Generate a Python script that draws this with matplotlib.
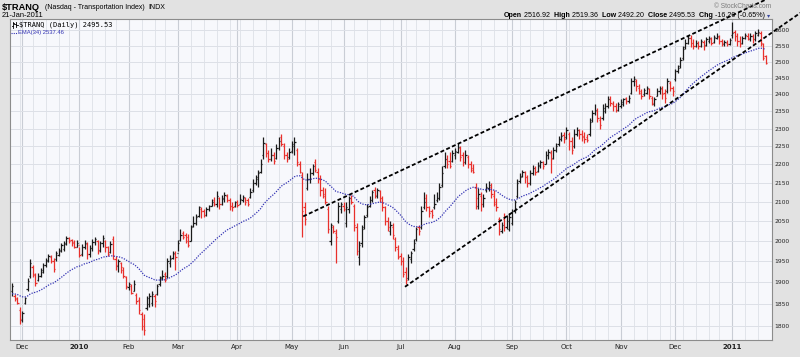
import numpy as np
import pandas as pd
import matplotlib
matplotlib.use("Agg")
import matplotlib.pyplot as plt
from matplotlib.ticker import FixedLocator, FixedFormatter, NullLocator
from matplotlib.lines import Line2D

# trading calendar of the chart
first_day = "2009-11-24"
last_day = "2011-01-21"
holidays = ["2009-11-26", "2009-12-25", "2010-01-01", "2010-01-18", "2010-02-15",
            "2010-04-02", "2010-05-31", "2010-07-05", "2010-09-06", "2010-11-25",
            "2010-12-24", "2011-01-17"]

# daily OHLC
opens = [
    1880, 1868, 1862, 1835, 1812, 1852, 1885, 1915, 1935, 1918,
    1905, 1915, 1925, 1940, 1950, 1960, 1950, 1955, 1965, 1975,
    1980, 1992, 2008, 2002, 1998, 1986, 1990, 1968, 1985, 1993,
    1968, 1982, 1998, 2000, 1978, 1995, 2000, 1985, 1972, 2005,
    1955, 1938, 1945, 1930, 1912, 1888, 1892, 1878, 1870, 1858,
    1825, 1815, 1840, 1850, 1852, 1868, 1872, 1895, 1912, 1920,
    1915, 1945, 1958, 1968, 1970, 2002, 2020, 2015, 2010, 2000,
    2038, 2045, 2062, 2082, 2075, 2065, 2080, 2090, 2105, 2095,
    2110, 2095, 2108, 2115, 2105, 2090, 2088, 2100, 2095, 2105,
    2110, 2105, 2112, 2130, 2150, 2160, 2178, 2225, 2255, 2230,
    2215, 2225, 2218, 2245, 2275, 2250, 2225, 2220, 2238, 2250,
    2240, 2200, 2170, 2085, 2135, 2160, 2175, 2205, 2180, 2160,
    2130, 2120, 2080, 2000, 2035, 2020, 2050, 2080, 2090, 2045,
    2080, 2110, 2090, 2035, 1960, 1995, 2035, 2065, 2090, 2105,
    2130, 2115, 2128, 2110, 2085, 2050, 2025, 2035, 2005, 1980,
    1962, 1950, 1925, 1910, 1955, 1980, 2005, 2035, 2035, 2085,
    2110, 2085, 2075, 2085, 2105, 2110, 2145, 2195, 2215, 2210,
    2210, 2225, 2235, 2245, 2225, 2205, 2220, 2200, 2190, 2140,
    2090, 2115, 2095, 2130, 2135, 2140, 2115, 2095, 2055, 2025,
    2055, 2035, 2030, 2045, 2075, 2115, 2155, 2168, 2178, 2165,
    2150, 2175, 2190, 2182, 2195, 2205, 2200, 2225, 2232, 2218,
    2240, 2255, 2270, 2282, 2275, 2285, 2265, 2250, 2285, 2295,
    2285, 2280, 2275, 2285, 2325, 2345, 2350, 2325, 2330, 2350,
    2365, 2385, 2372, 2365, 2355, 2365, 2370, 2388, 2380, 2405,
    2440, 2440, 2420, 2410, 2400, 2405, 2415, 2390, 2370, 2395,
    2410, 2415, 2405, 2410, 2435, 2420, 2445, 2470, 2485, 2510,
    2545, 2560, 2575, 2560, 2548, 2558, 2550, 2562, 2552, 2565,
    2572, 2562, 2575, 2578, 2565, 2555, 2560, 2555, 2585, 2595,
    2580, 2565, 2558, 2575, 2582, 2570, 2580, 2570, 2585, 2592,
    2555, 2516.92,
]
highs = [
    1899, 1871, 1866, 1842, 1832, 1866, 1910, 1955, 1940, 1922,
    1922, 1934, 1945, 1957, 1968, 1966, 1958, 1976, 1982, 1995,
    2001, 2013, 2010, 2006, 2002, 2003, 1985, 1992, 2003, 1998,
    1990, 2005, 2010, 2002, 2001, 2015, 2003, 1988, 2001, 2012,
    1962, 1955, 1948, 1936, 1915, 1900, 1895, 1906, 1875, 1865,
    1830, 1825, 1868, 1875, 1878, 1872, 1895, 1915, 1930, 1925,
    1958, 1965, 1975, 1975, 2003, 2030, 2025, 2020, 2018, 2040,
    2062, 2068, 2090, 2085, 2080, 2085, 2092, 2108, 2112, 2128,
    2112, 2118, 2125, 2120, 2110, 2098, 2103, 2105, 2120, 2118,
    2112, 2110, 2135, 2160, 2172, 2185, 2215, 2275, 2260, 2240,
    2245, 2235, 2255, 2275, 2285, 2260, 2235, 2245, 2265, 2275,
    2245, 2210, 2180, 2100, 2175, 2190, 2200, 2215, 2190, 2170,
    2140, 2135, 2090, 2045, 2040, 2030, 2100, 2100, 2098, 2100,
    2115, 2118, 2095, 2045, 2000, 2040, 2065, 2095, 2115, 2130,
    2140, 2135, 2132, 2115, 2090, 2060, 2050, 2045, 2010, 1990,
    1970, 1960, 1935, 1968, 1975, 2005, 2035, 2040, 2090, 2125,
    2120, 2090, 2080, 2120, 2125, 2150, 2195, 2235, 2225, 2235,
    2240, 2245, 2258, 2250, 2235, 2240, 2225, 2210, 2200, 2150,
    2135, 2125, 2120, 2150, 2155, 2150, 2130, 2110, 2060, 2048,
    2070, 2065, 2070, 2080, 2105, 2160, 2175, 2185, 2182, 2170,
    2185, 2198, 2195, 2205, 2212, 2210, 2238, 2242, 2240, 2248,
    2258, 2280, 2290, 2290, 2305, 2290, 2275, 2300, 2305, 2300,
    2295, 2290, 2285, 2330, 2355, 2370, 2360, 2335, 2370, 2375,
    2395, 2395, 2380, 2375, 2378, 2385, 2390, 2392, 2398, 2448,
    2455, 2445, 2430, 2415, 2420, 2425, 2420, 2395, 2392, 2420,
    2425, 2425, 2415, 2448, 2440, 2425, 2478, 2488, 2515, 2550,
    2570, 2585, 2585, 2570, 2568, 2565, 2572, 2568, 2578, 2582,
    2578, 2585, 2590, 2585, 2572, 2568, 2568, 2575, 2625, 2600,
    2592, 2580, 2582, 2592, 2590, 2590, 2588, 2598, 2605, 2598,
    2560, 2519.36,
]
lows = [
    1867, 1855, 1849, 1804, 1808, 1849, 1878, 1910, 1912, 1890,
    1902, 1913, 1922, 1936, 1948, 1945, 1925, 1950, 1962, 1972,
    1976, 1990, 1995, 1988, 1982, 1984, 1960, 1962, 1980, 1955,
    1960, 1975, 1990, 1968, 1972, 1985, 1972, 1962, 1970, 1955,
    1930, 1925, 1922, 1910, 1883, 1882, 1871, 1880, 1849, 1826,
    1790, 1780, 1835, 1842, 1845, 1843, 1870, 1892, 1905, 1900,
    1910, 1935, 1955, 1930, 1975, 2000, 2005, 1995, 1985, 2000,
    2035, 2040, 2060, 2058, 2060, 2062, 2075, 2088, 2088, 2085,
    2082, 2092, 2100, 2100, 2078, 2075, 2085, 2085, 2095, 2100,
    2092, 2090, 2110, 2125, 2145, 2140, 2175, 2215, 2220, 2205,
    2210, 2200, 2215, 2240, 2250, 2215, 2205, 2215, 2230, 2225,
    2195, 2175, 2010, 2040, 2130, 2150, 2170, 2178, 2150, 2115,
    2110, 2095, 2020, 1990, 2020, 1945, 2045, 2070, 2075, 2035,
    2070, 2095, 2025, 1965, 1940, 1985, 2030, 2060, 2085, 2100,
    2110, 2110, 2100, 2075, 2040, 2025, 2015, 2005, 1975, 1955,
    1940, 1912, 1895, 1905, 1945, 1975, 2000, 2015, 2030, 2080,
    2075, 2060, 2058, 2080, 2100, 2105, 2140, 2190, 2190, 2190,
    2205, 2215, 2230, 2210, 2195, 2200, 2190, 2180, 2175, 2080,
    2080, 2075, 2085, 2125, 2128, 2110, 2090, 2075, 2015, 2020,
    2025, 2030, 2025, 2040, 2070, 2110, 2150, 2165, 2150, 2140,
    2145, 2170, 2170, 2180, 2190, 2188, 2200, 2215, 2175, 2215,
    2235, 2250, 2265, 2260, 2270, 2240, 2228, 2245, 2280, 2270,
    2265, 2260, 2262, 2280, 2320, 2340, 2320, 2300, 2325, 2345,
    2360, 2365, 2350, 2348, 2350, 2360, 2365, 2370, 2375, 2400,
    2425, 2410, 2400, 2385, 2395, 2400, 2385, 2368, 2365, 2395,
    2400, 2385, 2375, 2405, 2410, 2395, 2440, 2465, 2480, 2505,
    2540, 2555, 2545, 2540, 2545, 2538, 2545, 2535, 2548, 2560,
    2552, 2558, 2570, 2555, 2550, 2550, 2548, 2552, 2575, 2565,
    2550, 2545, 2555, 2570, 2568, 2565, 2560, 2565, 2580, 2550,
    2505, 2492.20,
]
closes = [
    1890, 1860, 1852, 1815, 1828, 1862, 1903, 1945, 1920, 1898,
    1915, 1930, 1940, 1952, 1962, 1950, 1932, 1970, 1978, 1990,
    1996, 2008, 2000, 1994, 1986, 1996, 1965, 1985, 1995, 1968,
    1982, 1998, 2004, 1975, 1995, 2008, 1985, 1968, 1992, 1955,
    1940, 1950, 1935, 1915, 1890, 1895, 1875, 1895, 1855, 1835,
    1800, 1790, 1862, 1868, 1872, 1855, 1890, 1910, 1915, 1905,
    1950, 1955, 1970, 1960, 1995, 2015, 2010, 2000, 1990, 2035,
    2045, 2060, 2085, 2075, 2065, 2080, 2088, 2100, 2095, 2115,
    2095, 2110, 2118, 2105, 2090, 2085, 2100, 2092, 2108, 2112,
    2100, 2095, 2125, 2150, 2165, 2175, 2200, 2260, 2230, 2215,
    2225, 2210, 2245, 2265, 2255, 2225, 2215, 2235, 2255, 2262,
    2205, 2180, 2075, 2055, 2160, 2175, 2195, 2185, 2160, 2130,
    2115, 2100, 2030, 2040, 2025, 2010, 2090, 2095, 2080, 2085,
    2110, 2100, 2040, 1975, 1990, 2030, 2060, 2085, 2105, 2125,
    2118, 2130, 2110, 2085, 2050, 2035, 2040, 2015, 1985, 1960,
    1950, 1920, 1905, 1960, 1970, 1995, 2030, 2025, 2075, 2100,
    2085, 2070, 2065, 2095, 2110, 2140, 2175, 2215, 2200, 2195,
    2230, 2238, 2248, 2220, 2205, 2225, 2200, 2185, 2180, 2110,
    2120, 2095, 2110, 2140, 2145, 2120, 2100, 2085, 2030, 2040,
    2035, 2050, 2060, 2075, 2100, 2150, 2165, 2180, 2165, 2150,
    2175, 2190, 2180, 2198, 2205, 2195, 2225, 2235, 2215, 2240,
    2250, 2270, 2280, 2270, 2295, 2265, 2240, 2285, 2295, 2285,
    2275, 2270, 2268, 2320, 2345, 2355, 2330, 2310, 2360, 2365,
    2385, 2375, 2365, 2355, 2370, 2378, 2385, 2380, 2390, 2440,
    2445, 2425, 2405, 2395, 2412, 2420, 2395, 2375, 2385, 2410,
    2420, 2400, 2390, 2440, 2420, 2410, 2470, 2480, 2505, 2540,
    2560, 2575, 2560, 2550, 2560, 2548, 2565, 2550, 2570, 2575,
    2560, 2578, 2582, 2565, 2558, 2562, 2555, 2568, 2590, 2580,
    2565, 2555, 2575, 2585, 2575, 2582, 2570, 2590, 2595, 2560,
    2511.73, 2495.53,
]

# EMA(34) value at the left edge of the chart
ema_start = 1872
ema_span = 34

# hand drawn trend lines: (bar index, price) at both ends
upper_trend_x = [112.4, 304.5]
upper_trend_y = [2062, 2756]
lower_trend_x = [151.7, 304.5]
lower_trend_y = [1889, 2657]

y_ticks = list(range(1800, 2601, 50))

W, H = 800, 357
RED = "#e8302c"
BLACK = "#1a1a1a"
BLUE = "#3434b4"

dates = pd.bdate_range(first_day, last_day)
dates = dates[~dates.isin(pd.to_datetime(holidays))]
n = len(dates)
assert n == len(opens) == len(highs) == len(lows) == len(closes)

x = np.arange(n)
o = np.array(opens, float)
hi = np.array(highs, float)
lo = np.array(lows, float)
c = np.array(closes, float)
prev = np.r_[c[0], c[:-1]]
bar_colors = np.where(c < prev, RED, BLACK)

alpha = 2.0 / (ema_span + 1)
ema = []
e = ema_start
for v in c:
    e = e + alpha * (v - e)
    ema.append(e)

fig = plt.figure(figsize=(W / 100, H / 100), dpi=100, facecolor="#e2e2e2")


def fx(px):
    return px / W


def fy(py):
    return 1 - py / H


ax = fig.add_axes([fx(10), fy(340), (772 - 10) / W, (340 - 19) / H])
ax.set_facecolor("#f7f8fc")
ax.set_yscale("log")
ax.set_ylim(1768, 2636)
ax.set_xlim(-0.8, 293.4)

# grid: weekly and monthly verticals, 50-point horizontals
week_no = dates.isocalendar().week.values
week_starts = [i for i in range(1, n) if week_no[i] != week_no[i - 1]]
month_starts = [i for i in range(1, n) if dates[i].month != dates[i - 1].month]
for i in week_starts:
    ax.axvline(i, color="#e1e4ea", lw=0.7, zorder=0)
for i in month_starts:
    ax.axvline(i, color="#c9cdd5", lw=0.8, zorder=0)
for v in y_ticks:
    ax.axhline(v, color="#dde0e7", lw=0.7, zorder=0)

# OHLC bars
ax.vlines(x, lo, hi, colors=bar_colors, lw=0.9, zorder=3)
ax.hlines(o, x - 0.5, x, colors=bar_colors, lw=0.9, zorder=3)
ax.hlines(c, x, x + 0.5, colors=bar_colors, lw=0.9, zorder=3)

ax.plot(x, ema, color=BLUE, lw=0.9, ls=(0, (1, 1.1)), zorder=4)

ax.plot(upper_trend_x, upper_trend_y, color="black", lw=1.3,
        ls=(0, (2.2, 1.3)), clip_on=False, zorder=5)
ax.plot(lower_trend_x, lower_trend_y, color="black", lw=1.3,
        ls=(0, (2.2, 1.3)), clip_on=False, zorder=5)

# axes
ax.yaxis.tick_right()
ax.yaxis.set_major_locator(FixedLocator(y_ticks))
ax.yaxis.set_major_formatter(FixedFormatter([str(v) for v in y_ticks]))
ax.yaxis.set_minor_locator(NullLocator())
ax.tick_params(axis="y", length=0, pad=2, labelsize=4.3, labelcolor="#222222")

month_labels = [str(dates[i].year) if dates[i].month == 1 else dates[i].strftime("%b")
                for i in month_starts]
ax.set_xticks(month_starts)
ax.set_xticklabels(month_labels)
ax.tick_params(axis="x", length=0, pad=3, labelsize=5, labelcolor="#222222")
for i, t in zip(month_starts, ax.get_xticklabels()):
    if dates[i].month == 1:
        t.set_fontweight("bold")
for s in ax.spines.values():
    s.set_color("#8c8c8c")
    s.set_linewidth(0.8)

# header text
fig.text(fx(2), fy(7), "$TRANQ", fontsize=6.7, fontweight="bold", va="center", ha="left",
         family="Liberation Sans")
fig.text(fx(45), fy(7.5), "(Nasdaq - Transportation Index)", fontsize=5, va="center",
         ha="left", family="Liberation Sans")
fig.text(fx(148), fy(7.5), "INDX", fontsize=5, va="center", ha="left",
         family="Liberation Sans")
fig.text(fx(2), fy(15.5), "21-Jan-2011", fontsize=5.4, va="center", ha="left",
         family="Liberation Sans")
fig.text(fx(771), fy(6.5), "\u00a9 StockCharts.com", fontsize=4.8, va="center", ha="right",
         color="#7a7a7a", family="Liberation Sans")

parts = [("Open", "bold"), (" 2516.92", "normal"), ("  High", "bold"), (" 2519.36", "normal"),
         ("  Low", "bold"), (" 2492.20", "normal"), ("  Close", "bold"), (" 2495.53", "normal"),
         ("  Chg", "bold"), (" -16.20 (-0.65%)", "normal")]
renderer = fig.canvas.get_renderer()
cur = 765
for s, w in reversed(parts):
    t = fig.text(fx(cur), fy(15.5), s, fontsize=5.1, fontweight=w, va="center", ha="right",
                 family="Liberation Sans")
    cur -= t.get_window_extent(renderer).width
fig.text(fx(769), fy(15.5), "\u25be", fontsize=4.5, va="center", ha="center",
         color="#3a4aa0", family="DejaVu Sans")

# legend inside the plot
for seg in [((13, 13), (21.5, 27.5)), ((11.5, 13), (25.5, 25.5)), ((13, 14.5), (23, 23)),
            ((16, 16), (22, 26.5)), ((14.5, 16), (23.5, 23.5)), ((16, 17.5), (25, 25))]:
    fig.add_artist(Line2D([fx(p) for p in seg[0]], [fy(p) for p in seg[1]],
                          color="black", lw=0.6))
fig.text(fx(19), fy(24.5), "$TRANQ (Daily) 2495.53", fontsize=5, va="center", ha="left",
         family="DejaVu Sans Mono")
fig.add_artist(Line2D([fx(11), fx(17)], [fy(32.5), fy(32.5)], color=BLUE, lw=0.8,
                      ls=(0, (1, 1))))
fig.text(fx(17.5), fy(32.5), "EMA(34) 2537.46", fontsize=4.2, va="center", ha="left",
         color=BLUE, family="Liberation Sans")

fig.savefig("out.png", dpi=100, facecolor=fig.get_facecolor())
